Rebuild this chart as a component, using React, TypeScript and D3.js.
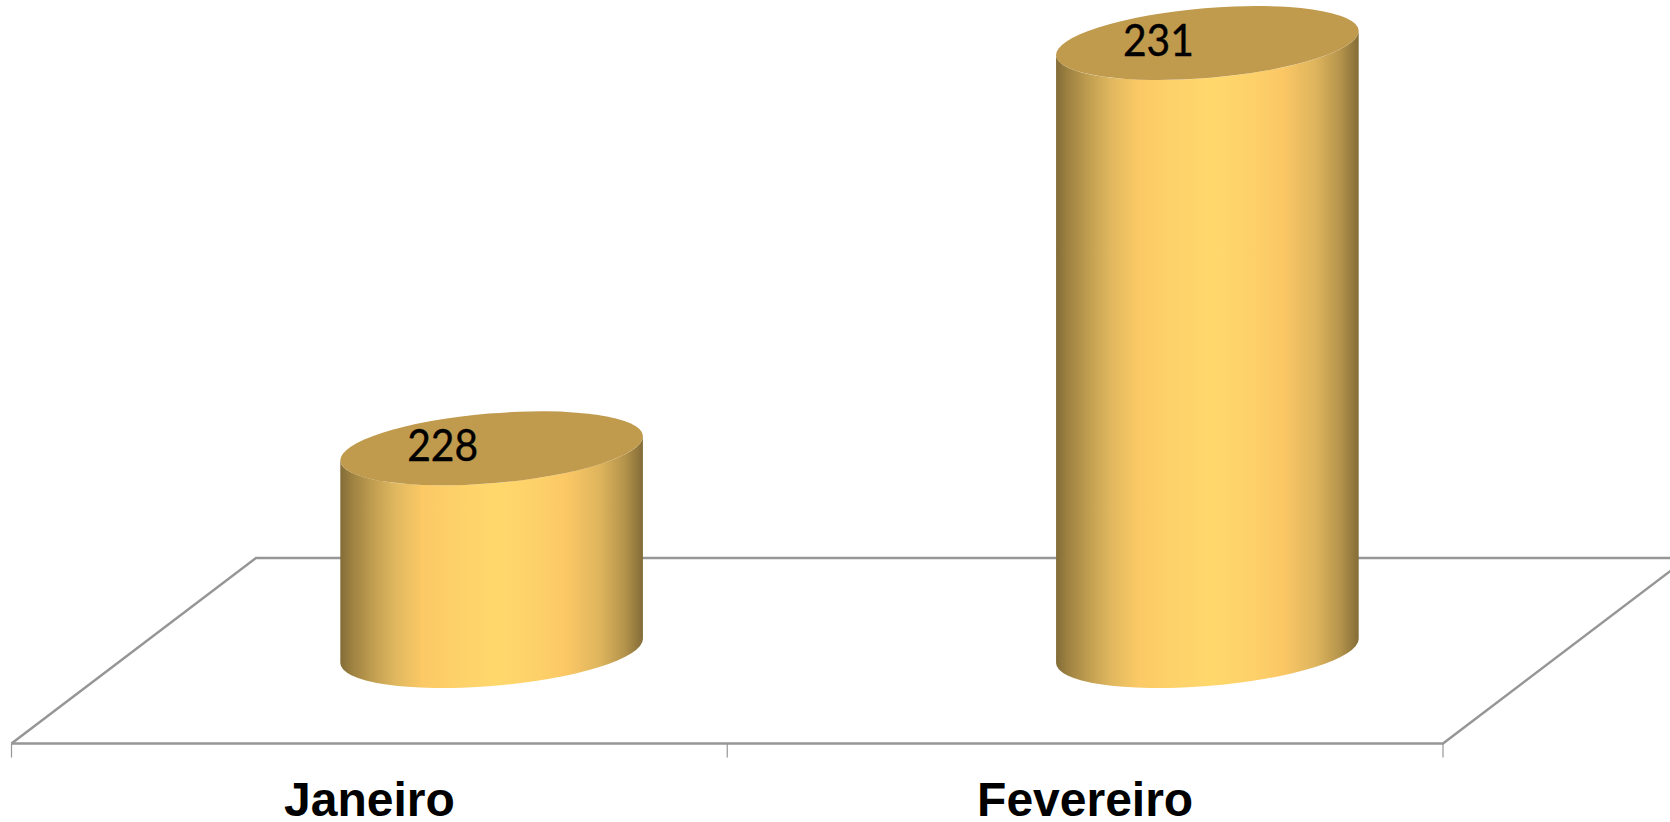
import React from "react";
import * as d3 from "d3";

const categories = ["Janeiro", "Fevereiro"];
const values = [228, 231];
const valueDomain = [226.5, 231];

const WIDTH = 1670;
const HEIGHT = 822;
const frontY = 743.5;
const backY = 558;
const depthX = 244.5;
const left = 11.5;
const right = 1443;
const cylinderRatio = 0.4228;
const ellipseHalfHeight = 37;
const tangentOffset = 12;

const gradientStops: [number, string][] = [
  [0, "#836C37"],
  [0.04, "#9E8241"],
  [0.1, "#BD9B4F"],
  [0.18, "#DFB75F"],
  [0.27, "#FBC965"],
  [0.36, "#FDD069"],
  [0.52, "#FFD86C"],
  [0.66, "#FDD069"],
  [0.75, "#FBC765"],
  [0.86, "#DDB45D"],
  [0.94, "#B4934B"],
  [1, "#836C37"],
];
const topColor = "#C09A4D";
const lineColor = "#969696";

export default function App() {
  const x = d3.scaleBand<string>().domain(categories).range([left, right]);
  const y = d3.scaleLinear().domain(valueDomain).range([651, 43]);
  const band = x.bandwidth();
  const cw = band * cylinderRatio;
  const halfW = cw / 2;

  // Tilted ellipse that fits the projected bounding box of the cylinder cap.
  const sxy = tangentOffset * halfW;
  const a = halfW * halfW;
  const d = ellipseHalfHeight * ellipseHalfHeight;
  const mean = (a + d) / 2;
  const r = Math.hypot((a - d) / 2, sxy);
  const rx = Math.sqrt(mean + r);
  const ry = Math.sqrt(mean - r);
  const angle = (-0.5 * Math.atan2(2 * sxy, a - d) * 180) / Math.PI;

  const ticks = d3.range(categories.length + 1).map((i) => left + i * band);
  const baseY = y(valueDomain[0]);

  return (
    <svg
      width={WIDTH}
      height={HEIGHT}
      viewBox={`0 0 ${WIDTH} ${HEIGHT}`}
      style={{ position: "absolute", left: 0, top: 0, display: "block", background: "#fff" }}
    >
      <defs>
        <linearGradient id="cyl" x1="0" x2="1" y1="0" y2="0">
          {gradientStops.map(([o, c]) => (
            <stop key={o} offset={o} stopColor={c} />
          ))}
        </linearGradient>
      </defs>

      <g fill="none" stroke={lineColor}>
        <path strokeWidth={2.5} d={`M${left},${frontY}L${left + depthX},${backY}H${WIDTH}`} />
        <path strokeWidth={2.5} d={`M${left},${frontY}H${right}L${right + depthX},${backY}`} />
        {ticks.map((t) => (
          <line key={t} x1={t} x2={t} y1={frontY} y2={757.5} strokeWidth={1.2} />
        ))}
      </g>

      {categories.map((c, i) => {
        const cx = (x(c) as number) + band / 2 + depthX / 2;
        const top = y(values[i]);
        const side =
          `M${cx - halfW},${top + tangentOffset}` +
          `L${cx - halfW},${baseY + tangentOffset}` +
          `A${rx},${ry} ${angle} 0 0 ${cx + halfW},${baseY - tangentOffset}` +
          `L${cx + halfW},${top - tangentOffset}` +
          `A${rx},${ry} ${angle} 0 1 ${cx - halfW},${top + tangentOffset}Z`;
        return (
          <g key={c}>
            <path d={side} fill="url(#cyl)" />
            <ellipse cx={0} cy={0} rx={rx} ry={ry} fill={topColor} transform={`translate(${cx},${top}) rotate(${angle})`} />
            <text
              x={cx - 49}
              y={top + 13}
              textAnchor="middle"
              fontFamily="Lato, 'Open Sans', sans-serif"
              fontSize={43.5}
              textLength={71}
              lengthAdjust="spacingAndGlyphs"
              stroke="#000"
              strokeWidth={0.4}
              fill="#000"
            >
              {values[i]}
            </text>
            <text
              x={(x(c) as number) + band / 2}
              y={816}
              textAnchor="middle"
              fontFamily="'Liberation Sans', Arial, sans-serif"
              fontWeight={700}
              fontSize={48}
              fill="#000"
            >
              {c}
            </text>
          </g>
        );
      })}
    </svg>
  );
}
